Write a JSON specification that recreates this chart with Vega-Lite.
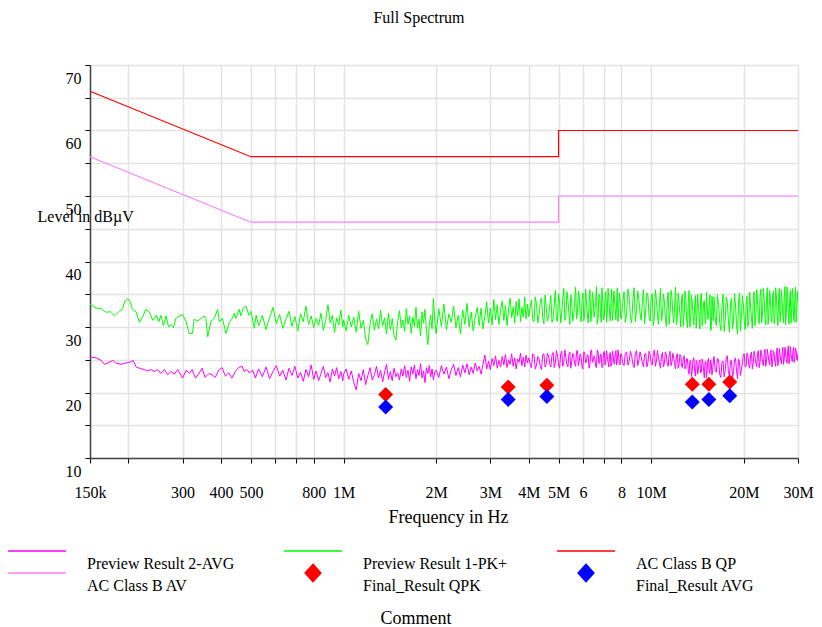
{
"$schema": "https://vega.github.io/schema/vega-lite/v6.json",
"width": 708,
"height": 393,
"autosize": {"type": "none"},
"padding": {"left": 90, "top": 65, "right": 24, "bottom": 169},
"background": "white",
"title": {"text": "Full Spectrum", "anchor": "middle", "dx": -25, "offset": 26, "baseline": "alphabetic", "font": "Liberation Serif", "fontSize": 16, "fontWeight": "normal", "color": "#000000"},
"config": {"view": {"stroke": null}, "font": "Liberation Serif"},
"datasets": {
"tr": [
{"s":"pk","f":150,"v":33.5},{"s":"pk","f":157,"v":32.9},{"s":"pk","f":163,"v":32.8},{"s":"pk","f":167,"v":32.4},{"s":"pk","f":171,"v":32.2},{"s":"pk","f":174,"v":32.4},{"s":"pk","f":180,"v":31.7},{"s":"pk","f":187,"v":32.4},{"s":"pk","f":191,"v":32.7},{"s":"pk","f":195,"v":34.0},{"s":"pk","f":199,"v":34.3},{"s":"pk","f":203,"v":33.8},{"s":"pk","f":206,"v":32.7},{"s":"pk","f":212,"v":32.3},{"s":"pk","f":217,"v":30.7},{"s":"pk","f":222,"v":31.5},{"s":"pk","f":228,"v":32.7},{"s":"pk","f":234,"v":32.3},{"s":"pk","f":240,"v":31.0},{"s":"pk","f":246,"v":31.8},{"s":"pk","f":251,"v":30.8},{"s":"pk","f":255,"v":31.8},{"s":"pk","f":260,"v":30.2},{"s":"pk","f":265,"v":31.7},{"s":"pk","f":270,"v":30.0},{"s":"pk","f":275,"v":30.4},{"s":"pk","f":280,"v":29.9},{"s":"pk","f":285,"v":31.3},{"s":"pk","f":293,"v":31.7},{"s":"pk","f":300,"v":31.9},{"s":"pk","f":308,"v":30.8},{"s":"pk","f":315,"v":29.0},{"s":"pk","f":323,"v":29.0},{"s":"pk","f":327,"v":31.2},{"s":"pk","f":336,"v":30.9},{"s":"pk","f":344,"v":31.3},{"s":"pk","f":353,"v":31.7},{"s":"pk","f":357,"v":31.3},{"s":"pk","f":362,"v":28.5},{"s":"pk","f":371,"v":30.9},{"s":"pk","f":380,"v":31.3},{"s":"pk","f":390,"v":32.7},{"s":"pk","f":395,"v":30.8},{"s":"pk","f":404,"v":31.3},{"s":"pk","f":415,"v":29.0},{"s":"pk","f":425,"v":30.6},{"s":"pk","f":435,"v":31.3},{"s":"pk","f":442,"v":32.1},{"s":"pk","f":447,"v":31.3},{"s":"pk","f":458,"v":32.7},{"s":"pk","f":464,"v":31.7},{"s":"pk","f":472,"v":32.9},{"s":"pk","f":482,"v":33.2},{"s":"pk","f":492,"v":31.8},{"s":"pk","f":500,"v":32.4},{"s":"pk","f":513,"v":29.8},{"s":"pk","f":520,"v":31.8},
{"s":"pk","f":530,"v":30.2},{"s":"pk","f":545,"v":31.8},{"s":"pk","f":560,"v":29.6},{"s":"pk","f":575,"v":31.4},{"s":"pk","f":590,"v":33.0},{"s":"pk","f":605,"v":30.5},{"s":"pk","f":620,"v":31.9},{"s":"pk","f":635,"v":29.8},{"s":"pk","f":650,"v":31.2},{"s":"pk","f":665,"v":32.4},{"s":"pk","f":680,"v":30.1},{"s":"pk","f":695,"v":31.6},{"s":"pk","f":710,"v":29.4},{"s":"pk","f":725,"v":32.0},{"s":"pk","f":740,"v":30.8},{"s":"pk","f":755,"v":33.2},{"s":"pk","f":770,"v":30.4},{"s":"pk","f":785,"v":31.7},{"s":"pk","f":800,"v":29.9},{"s":"pk","f":815,"v":31.3},{"s":"pk","f":830,"v":30.2},{"s":"pk","f":845,"v":32.1},{"s":"pk","f":860,"v":29.5},{"s":"pk","f":875,"v":31.0},{"s":"pk","f":890,"v":33.4},{"s":"pk","f":905,"v":30.6},{"s":"pk","f":920,"v":31.8},{"s":"pk","f":935,"v":29.2},{"s":"pk","f":950,"v":31.4},{"s":"pk","f":965,"v":30.3},{"s":"pk","f":980,"v":32.6},{"s":"pk","f":995,"v":30.0},
{"s":"pk","f":1000,"v":31.1},{"s":"pk","f":1020,"v":29.4},{"s":"pk","f":1040,"v":31.8},{"s":"pk","f":1060,"v":30.0},{"s":"pk","f":1080,"v":31.5},{"s":"pk","f":1100,"v":29.2},{"s":"pk","f":1120,"v":32.4},{"s":"pk","f":1140,"v":29.8},{"s":"pk","f":1160,"v":31.0},{"s":"pk","f":1180,"v":28.2},{"s":"pk","f":1200,"v":27.3},{"s":"pk","f":1220,"v":30.5},{"s":"pk","f":1240,"v":32.0},{"s":"pk","f":1260,"v":29.5},{"s":"pk","f":1280,"v":31.2},{"s":"pk","f":1300,"v":29.7},{"s":"pk","f":1320,"v":32.6},{"s":"pk","f":1340,"v":30.2},{"s":"pk","f":1360,"v":31.4},{"s":"pk","f":1380,"v":28.9},{"s":"pk","f":1400,"v":32.1},{"s":"pk","f":1420,"v":29.6},{"s":"pk","f":1440,"v":31.3},{"s":"pk","f":1460,"v":28.7},{"s":"pk","f":1480,"v":28.0},{"s":"pk","f":1500,"v":30.8},{"s":"pk","f":1520,"v":32.5},{"s":"pk","f":1540,"v":29.9},{"s":"pk","f":1560,"v":31.1},{"s":"pk","f":1580,"v":29.3},{"s":"pk","f":1600,"v":32.8},{"s":"pk","f":1620,"v":30.4},{"s":"pk","f":1640,"v":31.7},{"s":"pk","f":1660,"v":29.0},{"s":"pk","f":1680,"v":31.5},{"s":"pk","f":1700,"v":30.1},{"s":"pk","f":1720,"v":33.0},{"s":"pk","f":1740,"v":29.8},{"s":"pk","f":1760,"v":31.2},{"s":"pk","f":1780,"v":28.6},{"s":"pk","f":1800,"v":32.3},{"s":"pk","f":1820,"v":30.6},{"s":"pk","f":1840,"v":32.7},{"s":"pk","f":1860,"v":29.4},{"s":"pk","f":1880,"v":27.3},{"s":"pk","f":1900,"v":30.2},{"s":"pk","f":1920,"v":31.8},{"s":"pk","f":1940,"v":29.7},{"s":"pk","f":1960,"v":34.4},{"s":"pk","f":1980,"v":30.9},
{"s":"pk","f":2000,"v":29.0},{"s":"pk","f":2040,"v":32.8},{"s":"pk","f":2080,"v":30.1},{"s":"pk","f":2120,"v":33.5},{"s":"pk","f":2160,"v":29.6},{"s":"pk","f":2200,"v":32.0},{"s":"pk","f":2240,"v":30.7},{"s":"pk","f":2280,"v":33.2},{"s":"pk","f":2320,"v":29.9},{"s":"pk","f":2360,"v":31.8},{"s":"pk","f":2400,"v":28.9},{"s":"pk","f":2440,"v":32.6},{"s":"pk","f":2480,"v":30.4},{"s":"pk","f":2520,"v":33.6},{"s":"pk","f":2560,"v":30.0},{"s":"pk","f":2600,"v":32.3},{"s":"pk","f":2640,"v":29.4},{"s":"pk","f":2680,"v":31.5},{"s":"pk","f":2720,"v":33.0},{"s":"pk","f":2760,"v":30.2},{"s":"pk","f":2800,"v":32.9},{"s":"pk","f":2840,"v":29.7},{"s":"pk","f":2880,"v":31.6},{"s":"pk","f":2920,"v":33.8},{"s":"pk","f":2960,"v":30.6},{"s":"pk","f":3000,"v":32.9},{"s":"pk","f":3040,"v":30.3},{"s":"pk","f":3080,"v":34.2},{"s":"pk","f":3120,"v":31.1},{"s":"pk","f":3160,"v":33.4},{"s":"pk","f":3200,"v":30.4},{"s":"pk","f":3240,"v":32.6},{"s":"pk","f":3280,"v":34.0},{"s":"pk","f":3320,"v":31.0},{"s":"pk","f":3360,"v":33.3},{"s":"pk","f":3400,"v":30.2},{"s":"pk","f":3440,"v":32.8},{"s":"pk","f":3480,"v":34.4},{"s":"pk","f":3520,"v":31.4},{"s":"pk","f":3560,"v":33.1},{"s":"pk","f":3600,"v":30.6},{"s":"pk","f":3640,"v":33.9},{"s":"pk","f":3680,"v":31.7},{"s":"pk","f":3720,"v":34.3},{"s":"pk","f":3760,"v":30.8},{"s":"pk","f":3800,"v":33.0},{"s":"pk","f":3840,"v":31.5},{"s":"pk","f":3880,"v":34.6},{"s":"pk","f":3920,"v":31.2},{"s":"pk","f":3960,"v":33.5},
{"s":"pk","f":4000,"v":31.6},{"s":"pk","f":4080,"v":34.1},{"s":"pk","f":4160,"v":30.8},{"s":"pk","f":4240,"v":33.4},{"s":"pk","f":4320,"v":31.9},{"s":"pk","f":4400,"v":34.5},{"s":"pk","f":4480,"v":30.5},{"s":"pk","f":4560,"v":33.0},{"s":"pk","f":4640,"v":31.7},{"s":"pk","f":4720,"v":34.8},{"s":"pk","f":4800,"v":31.2},{"s":"pk","f":4880,"v":35.6},{"s":"pk","f":4960,"v":30.9},{"s":"pk","f":5040,"v":33.8},{"s":"pk","f":5120,"v":32.0},{"s":"pk","f":5200,"v":35.9},{"s":"pk","f":5280,"v":31.4},{"s":"pk","f":5360,"v":34.2},{"s":"pk","f":5440,"v":30.4},{"s":"pk","f":5520,"v":33.6},{"s":"pk","f":5600,"v":31.8},{"s":"pk","f":5680,"v":36.1},{"s":"pk","f":5760,"v":32.3},{"s":"pk","f":5840,"v":34.7},{"s":"pk","f":5920,"v":30.8},{"s":"pk","f":6000,"v":35.2},{"s":"pk","f":6080,"v":32.1},{"s":"pk","f":6160,"v":34.0},{"s":"pk","f":6240,"v":30.6},{"s":"pk","f":6320,"v":35.7},{"s":"pk","f":6400,"v":31.9},{"s":"pk","f":6480,"v":34.4},{"s":"pk","f":6560,"v":32.5},{"s":"pk","f":6640,"v":36.2},{"s":"pk","f":6720,"v":31.3},{"s":"pk","f":6800,"v":34.9},{"s":"pk","f":6880,"v":30.7},{"s":"pk","f":6960,"v":33.7},{"s":"pk","f":7040,"v":31.6},{"s":"pk","f":7120,"v":35.4},{"s":"pk","f":7200,"v":32.2},{"s":"pk","f":7280,"v":34.6},{"s":"pk","f":7360,"v":30.9},{"s":"pk","f":7440,"v":35.8},{"s":"pk","f":7520,"v":32.4},{"s":"pk","f":7600,"v":34.1},{"s":"pk","f":7680,"v":31.1},{"s":"pk","f":7760,"v":36.0},{"s":"pk","f":7840,"v":32.6},{"s":"pk","f":7920,"v":34.3},
{"s":"pk","f":4040,"v":33.0},{"s":"pk","f":4120,"v":31.2},{"s":"pk","f":4200,"v":34.6},{"s":"pk","f":4280,"v":30.6},{"s":"pk","f":4360,"v":33.7},{"s":"pk","f":4440,"v":31.4},{"s":"pk","f":4520,"v":34.9},{"s":"pk","f":4600,"v":30.9},{"s":"pk","f":4680,"v":33.3},{"s":"pk","f":4760,"v":30.7},{"s":"pk","f":4840,"v":33.5},{"s":"pk","f":4920,"v":31.0},{"s":"pk","f":5000,"v":35.1},{"s":"pk","f":5080,"v":30.6},{"s":"pk","f":5160,"v":34.4},{"s":"pk","f":5240,"v":31.0},{"s":"pk","f":5320,"v":35.4},{"s":"pk","f":5400,"v":32.2},{"s":"pk","f":5480,"v":34.9},{"s":"pk","f":5560,"v":30.9},{"s":"pk","f":5640,"v":33.9},{"s":"pk","f":5720,"v":31.2},{"s":"pk","f":5800,"v":35.5},{"s":"pk","f":5880,"v":31.6},{"s":"pk","f":5960,"v":34.0},{"s":"pk","f":6040,"v":30.9},{"s":"pk","f":6120,"v":35.8},{"s":"pk","f":6200,"v":31.8},{"s":"pk","f":6280,"v":33.4},{"s":"pk","f":6360,"v":30.8},{"s":"pk","f":6440,"v":35.3},{"s":"pk","f":6520,"v":31.5},{"s":"pk","f":6600,"v":33.9},{"s":"pk","f":6680,"v":30.5},{"s":"pk","f":6760,"v":35.0},{"s":"pk","f":6840,"v":32.0},{"s":"pk","f":6920,"v":36.0},{"s":"pk","f":7000,"v":31.1},{"s":"pk","f":7080,"v":34.5},{"s":"pk","f":7160,"v":30.7},{"s":"pk","f":7240,"v":35.9},{"s":"pk","f":7320,"v":32.3},{"s":"pk","f":7400,"v":33.6},{"s":"pk","f":7480,"v":31.0},{"s":"pk","f":7560,"v":35.5},{"s":"pk","f":7640,"v":32.7},{"s":"pk","f":7720,"v":33.8},{"s":"pk","f":7800,"v":30.8},{"s":"pk","f":7880,"v":35.2},{"s":"pk","f":7960,"v":31.4},
{"s":"pk","f":8000,"v":31.2},{"s":"pk","f":8160,"v":35.4},{"s":"pk","f":8320,"v":32.0},{"s":"pk","f":8480,"v":34.6},{"s":"pk","f":8640,"v":30.6},{"s":"pk","f":8800,"v":36.0},{"s":"pk","f":8960,"v":32.4},{"s":"pk","f":9120,"v":34.1},{"s":"pk","f":9280,"v":31.0},{"s":"pk","f":9440,"v":35.7},{"s":"pk","f":9600,"v":32.6},{"s":"pk","f":9760,"v":34.8},{"s":"pk","f":9920,"v":30.9},{"s":"pk","f":10080,"v":35.1},{"s":"pk","f":10240,"v":31.7},{"s":"pk","f":10400,"v":34.0},{"s":"pk","f":10560,"v":30.4},{"s":"pk","f":10720,"v":35.9},{"s":"pk","f":10880,"v":31.9},{"s":"pk","f":11040,"v":33.9},{"s":"pk","f":11200,"v":30.1},{"s":"pk","f":11360,"v":35.3},{"s":"pk","f":11520,"v":32.2},{"s":"pk","f":11680,"v":34.5},{"s":"pk","f":11840,"v":30.6},{"s":"pk","f":12000,"v":36.1},{"s":"pk","f":12160,"v":31.5},{"s":"pk","f":12320,"v":33.7},{"s":"pk","f":12480,"v":30.0},{"s":"pk","f":12640,"v":35.0},{"s":"pk","f":12800,"v":32.0},{"s":"pk","f":12960,"v":34.3},{"s":"pk","f":13120,"v":29.9},{"s":"pk","f":13280,"v":35.6},{"s":"pk","f":13440,"v":31.4},{"s":"pk","f":13600,"v":33.5},{"s":"pk","f":13760,"v":30.3},{"s":"pk","f":13920,"v":34.8},{"s":"pk","f":14080,"v":31.8},{"s":"pk","f":14240,"v":33.2},{"s":"pk","f":14400,"v":29.7},{"s":"pk","f":14560,"v":35.2},{"s":"pk","f":14720,"v":31.2},{"s":"pk","f":14880,"v":34.0},{"s":"pk","f":15040,"v":30.5},{"s":"pk","f":15200,"v":33.6},{"s":"pk","f":15360,"v":31.6},{"s":"pk","f":15520,"v":34.9},{"s":"pk","f":15680,"v":29.6},{"s":"pk","f":15840,"v":33.1},
{"s":"pk","f":8080,"v":33.6},{"s":"pk","f":8240,"v":30.7},{"s":"pk","f":8400,"v":35.8},{"s":"pk","f":8560,"v":31.4},{"s":"pk","f":8720,"v":34.2},{"s":"pk","f":8880,"v":30.8},{"s":"pk","f":9040,"v":35.5},{"s":"pk","f":9200,"v":32.1},{"s":"pk","f":9360,"v":33.9},{"s":"pk","f":9520,"v":30.5},{"s":"pk","f":9680,"v":35.2},{"s":"pk","f":9840,"v":31.6},{"s":"pk","f":10000,"v":34.5},{"s":"pk","f":10160,"v":30.2},{"s":"pk","f":10320,"v":35.7},{"s":"pk","f":10480,"v":31.8},{"s":"pk","f":10640,"v":33.6},{"s":"pk","f":10800,"v":30.9},{"s":"pk","f":10960,"v":35.0},{"s":"pk","f":11120,"v":31.3},{"s":"pk","f":11280,"v":34.1},{"s":"pk","f":11440,"v":30.4},{"s":"pk","f":11600,"v":35.6},{"s":"pk","f":11760,"v":31.9},{"s":"pk","f":11920,"v":33.4},{"s":"pk","f":12080,"v":30.3},{"s":"pk","f":12240,"v":35.2},{"s":"pk","f":12400,"v":32.0},{"s":"pk","f":12560,"v":34.4},{"s":"pk","f":12720,"v":30.1},{"s":"pk","f":12880,"v":35.5},{"s":"pk","f":13040,"v":31.1},{"s":"pk","f":13200,"v":33.8},{"s":"pk","f":13360,"v":30.0},{"s":"pk","f":13520,"v":34.9},{"s":"pk","f":13680,"v":31.7},{"s":"pk","f":13840,"v":33.3},{"s":"pk","f":14000,"v":29.8},{"s":"pk","f":14160,"v":35.0},{"s":"pk","f":14320,"v":31.4},{"s":"pk","f":14480,"v":34.6},{"s":"pk","f":14640,"v":30.2},{"s":"pk","f":14800,"v":33.7},{"s":"pk","f":14960,"v":30.8},{"s":"pk","f":15120,"v":35.3},{"s":"pk","f":15280,"v":31.2},{"s":"pk","f":15440,"v":33.4},{"s":"pk","f":15600,"v":29.5},{"s":"pk","f":15760,"v":34.7},{"s":"pk","f":15920,"v":30.9},
{"s":"pk","f":16000,"v":34.6},{"s":"pk","f":16280,"v":30.2},{"s":"pk","f":16560,"v":33.4},{"s":"pk","f":16840,"v":29.5},{"s":"pk","f":17120,"v":35.0},{"s":"pk","f":17400,"v":31.1},{"s":"pk","f":17680,"v":33.8},{"s":"pk","f":17960,"v":29.2},{"s":"pk","f":18240,"v":34.4},{"s":"pk","f":18520,"v":30.8},{"s":"pk","f":18800,"v":33.1},{"s":"pk","f":19080,"v":28.9},{"s":"pk","f":19360,"v":35.2},{"s":"pk","f":19640,"v":31.3},{"s":"pk","f":19920,"v":33.6},{"s":"pk","f":20200,"v":29.6},{"s":"pk","f":20480,"v":34.7},{"s":"pk","f":20760,"v":30.9},{"s":"pk","f":21040,"v":33.2},{"s":"pk","f":21320,"v":29.8},{"s":"pk","f":21600,"v":35.4},{"s":"pk","f":21880,"v":31.6},{"s":"pk","f":22160,"v":34.1},{"s":"pk","f":22440,"v":30.5},{"s":"pk","f":22720,"v":35.8},{"s":"pk","f":23000,"v":31.9},{"s":"pk","f":23280,"v":34.5},{"s":"pk","f":23560,"v":30.3},{"s":"pk","f":23840,"v":36.0},{"s":"pk","f":24120,"v":32.1},{"s":"pk","f":24400,"v":34.2},{"s":"pk","f":24680,"v":30.7},{"s":"pk","f":24960,"v":35.5},{"s":"pk","f":25240,"v":31.4},{"s":"pk","f":25520,"v":34.8},{"s":"pk","f":25800,"v":30.2},{"s":"pk","f":26080,"v":35.9},{"s":"pk","f":26360,"v":32.3},{"s":"pk","f":26640,"v":34.0},{"s":"pk","f":26920,"v":30.6},{"s":"pk","f":27200,"v":36.2},{"s":"pk","f":27480,"v":31.8},{"s":"pk","f":27760,"v":34.6},{"s":"pk","f":28040,"v":30.4},{"s":"pk","f":28320,"v":35.6},{"s":"pk","f":28600,"v":32.0},{"s":"pk","f":28880,"v":34.9},{"s":"pk","f":29160,"v":30.8},{"s":"pk","f":29440,"v":36.1},{"s":"pk","f":29720,"v":31.5},{"s":"pk","f":30000,"v":33.8},
{"s":"pk","f":16140,"v":31.4},{"s":"pk","f":16420,"v":34.9},{"s":"pk","f":16700,"v":30.6},{"s":"pk","f":16980,"v":33.0},{"s":"pk","f":17260,"v":29.3},{"s":"pk","f":17540,"v":34.6},{"s":"pk","f":17820,"v":30.9},{"s":"pk","f":18100,"v":33.5},{"s":"pk","f":18380,"v":29.7},{"s":"pk","f":18660,"v":35.1},{"s":"pk","f":18940,"v":30.4},{"s":"pk","f":19220,"v":33.7},{"s":"pk","f":19500,"v":29.4},{"s":"pk","f":19780,"v":34.8},{"s":"pk","f":20060,"v":31.0},{"s":"pk","f":20340,"v":33.1},{"s":"pk","f":20620,"v":30.1},{"s":"pk","f":20900,"v":35.3},{"s":"pk","f":21180,"v":31.4},{"s":"pk","f":21460,"v":34.2},{"s":"pk","f":21740,"v":30.2},{"s":"pk","f":22020,"v":35.7},{"s":"pk","f":22300,"v":31.2},{"s":"pk","f":22580,"v":34.6},{"s":"pk","f":22860,"v":30.6},{"s":"pk","f":23140,"v":35.9},{"s":"pk","f":23420,"v":31.7},{"s":"pk","f":23700,"v":34.1},{"s":"pk","f":23980,"v":30.4},{"s":"pk","f":24260,"v":35.6},{"s":"pk","f":24540,"v":31.3},{"s":"pk","f":24820,"v":34.7},{"s":"pk","f":25100,"v":30.5},{"s":"pk","f":25380,"v":36.0},{"s":"pk","f":25660,"v":31.9},{"s":"pk","f":25940,"v":34.3},{"s":"pk","f":26220,"v":30.8},{"s":"pk","f":26500,"v":35.7},{"s":"pk","f":26780,"v":31.6},{"s":"pk","f":27060,"v":34.5},{"s":"pk","f":27340,"v":30.3},{"s":"pk","f":27620,"v":36.1},{"s":"pk","f":27900,"v":32.2},{"s":"pk","f":28180,"v":34.0},{"s":"pk","f":28460,"v":30.6},{"s":"pk","f":28740,"v":35.9},{"s":"pk","f":29020,"v":31.4},{"s":"pk","f":29300,"v":34.4},{"s":"pk","f":29580,"v":30.7},{"s":"pk","f":29860,"v":35.5},
{"s":"avg","f":150,"v":25.4},{"s":"avg","f":157,"v":25.3},{"s":"avg","f":163,"v":24.9},{"s":"avg","f":167,"v":24.3},{"s":"avg","f":171,"v":24.5},{"s":"avg","f":178,"v":24.9},{"s":"avg","f":182,"v":24.5},{"s":"avg","f":189,"v":24.3},{"s":"avg","f":196,"v":24.5},{"s":"avg","f":204,"v":24.7},{"s":"avg","f":207,"v":24.9},{"s":"avg","f":212,"v":23.9},{"s":"avg","f":217,"v":23.7},{"s":"avg","f":225,"v":23.5},{"s":"avg","f":231,"v":23.3},{"s":"avg","f":237,"v":23.5},{"s":"avg","f":243,"v":23.2},{"s":"avg","f":249,"v":23.5},{"s":"avg","f":255,"v":22.9},{"s":"avg","f":262,"v":23.5},{"s":"avg","f":268,"v":22.7},{"s":"avg","f":275,"v":23.2},{"s":"avg","f":282,"v":22.8},{"s":"avg","f":289,"v":23.5},{"s":"avg","f":300,"v":22.2},{"s":"avg","f":308,"v":23.4},{"s":"avg","f":315,"v":22.9},{"s":"avg","f":322,"v":23.5},{"s":"avg","f":330,"v":22.2},{"s":"avg","f":338,"v":22.8},{"s":"avg","f":347,"v":23.7},{"s":"avg","f":355,"v":22.3},{"s":"avg","f":365,"v":22.9},{"s":"avg","f":374,"v":22.7},{"s":"avg","f":383,"v":22.3},{"s":"avg","f":393,"v":23.4},{"s":"avg","f":403,"v":23.8},{"s":"avg","f":413,"v":22.5},{"s":"avg","f":423,"v":23.0},{"s":"avg","f":434,"v":22.2},{"s":"avg","f":445,"v":23.2},{"s":"avg","f":456,"v":23.8},{"s":"avg","f":468,"v":24.0},{"s":"avg","f":476,"v":23.2},{"s":"avg","f":486,"v":23.5},{"s":"avg","f":494,"v":23.0},{"s":"avg","f":507,"v":23.4},{"s":"avg","f":517,"v":22.2},
{"s":"avg","f":530,"v":23.6},{"s":"avg","f":545,"v":22.4},{"s":"avg","f":560,"v":23.9},{"s":"avg","f":575,"v":22.1},{"s":"avg","f":590,"v":23.2},{"s":"avg","f":605,"v":24.1},{"s":"avg","f":620,"v":22.5},{"s":"avg","f":635,"v":23.4},{"s":"avg","f":650,"v":21.9},{"s":"avg","f":665,"v":23.7},{"s":"avg","f":680,"v":22.6},{"s":"avg","f":695,"v":24.0},{"s":"avg","f":710,"v":22.2},{"s":"avg","f":725,"v":23.1},{"s":"avg","f":740,"v":21.7},{"s":"avg","f":755,"v":23.5},{"s":"avg","f":770,"v":22.4},{"s":"avg","f":785,"v":24.2},{"s":"avg","f":800,"v":22.0},{"s":"avg","f":815,"v":23.3},{"s":"avg","f":830,"v":21.8},{"s":"avg","f":845,"v":22.9},{"s":"avg","f":860,"v":24.0},{"s":"avg","f":875,"v":22.3},{"s":"avg","f":890,"v":23.0},{"s":"avg","f":905,"v":21.6},{"s":"avg","f":920,"v":23.6},{"s":"avg","f":935,"v":22.5},{"s":"avg","f":950,"v":23.8},{"s":"avg","f":965,"v":22.1},{"s":"avg","f":980,"v":23.2},{"s":"avg","f":995,"v":21.8},
{"s":"avg","f":1000,"v":22.8},{"s":"avg","f":1020,"v":23.6},{"s":"avg","f":1040,"v":22.0},{"s":"avg","f":1060,"v":23.3},{"s":"avg","f":1080,"v":21.5},{"s":"avg","f":1100,"v":20.4},{"s":"avg","f":1120,"v":22.9},{"s":"avg","f":1140,"v":21.8},{"s":"avg","f":1160,"v":23.5},{"s":"avg","f":1180,"v":21.2},{"s":"avg","f":1200,"v":22.6},{"s":"avg","f":1220,"v":23.8},{"s":"avg","f":1240,"v":21.9},{"s":"avg","f":1260,"v":22.7},{"s":"avg","f":1280,"v":24.0},{"s":"avg","f":1300,"v":22.2},{"s":"avg","f":1320,"v":23.4},{"s":"avg","f":1340,"v":21.6},{"s":"avg","f":1360,"v":23.1},{"s":"avg","f":1380,"v":24.3},{"s":"avg","f":1400,"v":22.0},{"s":"avg","f":1420,"v":23.2},{"s":"avg","f":1440,"v":21.8},{"s":"avg","f":1460,"v":23.7},{"s":"avg","f":1480,"v":22.4},{"s":"avg","f":1500,"v":23.0},{"s":"avg","f":1520,"v":21.9},{"s":"avg","f":1540,"v":23.6},{"s":"avg","f":1560,"v":22.5},{"s":"avg","f":1580,"v":24.1},{"s":"avg","f":1600,"v":22.3},{"s":"avg","f":1620,"v":23.4},{"s":"avg","f":1640,"v":21.7},{"s":"avg","f":1660,"v":23.9},{"s":"avg","f":1680,"v":22.8},{"s":"avg","f":1700,"v":24.2},{"s":"avg","f":1720,"v":22.1},{"s":"avg","f":1740,"v":23.5},{"s":"avg","f":1760,"v":22.6},{"s":"avg","f":1780,"v":24.4},{"s":"avg","f":1800,"v":22.2},{"s":"avg","f":1820,"v":23.3},{"s":"avg","f":1840,"v":21.5},{"s":"avg","f":1860,"v":23.8},{"s":"avg","f":1880,"v":22.9},{"s":"avg","f":1900,"v":24.1},{"s":"avg","f":1920,"v":22.4},{"s":"avg","f":1940,"v":23.6},{"s":"avg","f":1960,"v":21.9},{"s":"avg","f":1980,"v":23.2},
{"s":"avg","f":2000,"v":23.4},{"s":"avg","f":2040,"v":22.3},{"s":"avg","f":2080,"v":24.1},{"s":"avg","f":2120,"v":22.8},{"s":"avg","f":2160,"v":23.9},{"s":"avg","f":2200,"v":22.1},{"s":"avg","f":2240,"v":23.5},{"s":"avg","f":2280,"v":24.3},{"s":"avg","f":2320,"v":22.6},{"s":"avg","f":2360,"v":23.8},{"s":"avg","f":2400,"v":22.4},{"s":"avg","f":2440,"v":24.2},{"s":"avg","f":2480,"v":23.0},{"s":"avg","f":2520,"v":24.4},{"s":"avg","f":2560,"v":22.7},{"s":"avg","f":2600,"v":23.9},{"s":"avg","f":2640,"v":22.9},{"s":"avg","f":2680,"v":24.5},{"s":"avg","f":2720,"v":23.3},{"s":"avg","f":2760,"v":24.0},{"s":"avg","f":2800,"v":22.8},{"s":"avg","f":2840,"v":24.3},{"s":"avg","f":2880,"v":25.7},{"s":"avg","f":2920,"v":23.6},{"s":"avg","f":2960,"v":24.8},{"s":"avg","f":3000,"v":23.5},{"s":"avg","f":3040,"v":25.2},{"s":"avg","f":3080,"v":24.1},{"s":"avg","f":3120,"v":25.6},{"s":"avg","f":3160,"v":23.7},{"s":"avg","f":3200,"v":24.9},{"s":"avg","f":3240,"v":23.9},{"s":"avg","f":3280,"v":25.5},{"s":"avg","f":3320,"v":24.2},{"s":"avg","f":3360,"v":25.8},{"s":"avg","f":3400,"v":23.8},{"s":"avg","f":3440,"v":25.0},{"s":"avg","f":3480,"v":24.3},{"s":"avg","f":3520,"v":25.9},{"s":"avg","f":3560,"v":24.0},{"s":"avg","f":3600,"v":25.3},{"s":"avg","f":3640,"v":23.6},{"s":"avg","f":3680,"v":25.1},{"s":"avg","f":3720,"v":24.6},{"s":"avg","f":3760,"v":26.0},{"s":"avg","f":3800,"v":24.1},{"s":"avg","f":3840,"v":25.4},{"s":"avg","f":3880,"v":23.9},{"s":"avg","f":3920,"v":25.7},{"s":"avg","f":3960,"v":24.5},
{"s":"avg","f":4000,"v":25.3},{"s":"avg","f":4080,"v":23.8},{"s":"avg","f":4160,"v":25.7},{"s":"avg","f":4240,"v":24.2},{"s":"avg","f":4320,"v":25.1},{"s":"avg","f":4400,"v":23.5},{"s":"avg","f":4480,"v":25.9},{"s":"avg","f":4560,"v":24.4},{"s":"avg","f":4640,"v":25.6},{"s":"avg","f":4720,"v":23.9},{"s":"avg","f":4800,"v":26.1},{"s":"avg","f":4880,"v":24.5},{"s":"avg","f":4960,"v":25.8},{"s":"avg","f":5040,"v":23.7},{"s":"avg","f":5120,"v":26.3},{"s":"avg","f":5200,"v":24.6},{"s":"avg","f":5280,"v":25.4},{"s":"avg","f":5360,"v":23.9},{"s":"avg","f":5440,"v":26.2},{"s":"avg","f":5520,"v":24.8},{"s":"avg","f":5600,"v":25.5},{"s":"avg","f":5680,"v":24.0},{"s":"avg","f":5760,"v":26.4},{"s":"avg","f":5840,"v":24.9},{"s":"avg","f":5920,"v":25.3},{"s":"avg","f":6000,"v":23.6},{"s":"avg","f":6080,"v":26.0},{"s":"avg","f":6160,"v":24.7},{"s":"avg","f":6240,"v":25.6},{"s":"avg","f":6320,"v":24.2},{"s":"avg","f":6400,"v":26.5},{"s":"avg","f":6480,"v":24.8},{"s":"avg","f":6560,"v":25.4},{"s":"avg","f":6640,"v":23.8},{"s":"avg","f":6720,"v":26.2},{"s":"avg","f":6800,"v":24.5},{"s":"avg","f":6880,"v":25.7},{"s":"avg","f":6960,"v":24.1},{"s":"avg","f":7040,"v":26.3},{"s":"avg","f":7120,"v":24.9},{"s":"avg","f":7200,"v":25.5},{"s":"avg","f":7280,"v":23.9},{"s":"avg","f":7360,"v":26.1},{"s":"avg","f":7440,"v":24.6},{"s":"avg","f":7520,"v":25.8},{"s":"avg","f":7600,"v":24.3},{"s":"avg","f":7680,"v":26.4},{"s":"avg","f":7760,"v":25.0},{"s":"avg","f":7840,"v":25.6},{"s":"avg","f":7920,"v":24.2},
{"s":"avg","f":4040,"v":24.4},{"s":"avg","f":4120,"v":25.9},{"s":"avg","f":4200,"v":23.6},{"s":"avg","f":4280,"v":25.5},{"s":"avg","f":4360,"v":24.0},{"s":"avg","f":4440,"v":25.8},{"s":"avg","f":4520,"v":23.9},{"s":"avg","f":4600,"v":26.0},{"s":"avg","f":4680,"v":24.3},{"s":"avg","f":4760,"v":25.7},{"s":"avg","f":4840,"v":23.8},{"s":"avg","f":4920,"v":26.4},{"s":"avg","f":5000,"v":24.2},{"s":"avg","f":5080,"v":25.9},{"s":"avg","f":5160,"v":24.0},{"s":"avg","f":5240,"v":26.5},{"s":"avg","f":5320,"v":24.3},{"s":"avg","f":5400,"v":25.8},{"s":"avg","f":5480,"v":23.7},{"s":"avg","f":5560,"v":26.0},{"s":"avg","f":5640,"v":24.4},{"s":"avg","f":5720,"v":26.3},{"s":"avg","f":5800,"v":24.1},{"s":"avg","f":5880,"v":25.9},{"s":"avg","f":5960,"v":23.9},{"s":"avg","f":6040,"v":26.2},{"s":"avg","f":6120,"v":24.5},{"s":"avg","f":6200,"v":25.8},{"s":"avg","f":6280,"v":23.7},{"s":"avg","f":6360,"v":26.4},{"s":"avg","f":6440,"v":24.6},{"s":"avg","f":6520,"v":25.6},{"s":"avg","f":6600,"v":24.0},{"s":"avg","f":6680,"v":26.5},{"s":"avg","f":6760,"v":24.4},{"s":"avg","f":6840,"v":25.9},{"s":"avg","f":6920,"v":23.8},{"s":"avg","f":7000,"v":26.1},{"s":"avg","f":7080,"v":24.2},{"s":"avg","f":7160,"v":26.4},{"s":"avg","f":7240,"v":24.7},{"s":"avg","f":7320,"v":25.8},{"s":"avg","f":7400,"v":24.0},{"s":"avg","f":7480,"v":26.3},{"s":"avg","f":7560,"v":24.5},{"s":"avg","f":7640,"v":26.0},{"s":"avg","f":7720,"v":24.2},{"s":"avg","f":7800,"v":26.5},{"s":"avg","f":7880,"v":24.4},{"s":"avg","f":7960,"v":25.9},
{"s":"avg","f":8000,"v":25.9},{"s":"avg","f":8160,"v":24.1},{"s":"avg","f":8320,"v":26.2},{"s":"avg","f":8480,"v":24.7},{"s":"avg","f":8640,"v":25.6},{"s":"avg","f":8800,"v":23.8},{"s":"avg","f":8960,"v":26.4},{"s":"avg","f":9120,"v":24.9},{"s":"avg","f":9280,"v":25.4},{"s":"avg","f":9440,"v":23.9},{"s":"avg","f":9600,"v":26.0},{"s":"avg","f":9760,"v":24.6},{"s":"avg","f":9920,"v":25.8},{"s":"avg","f":10080,"v":24.2},{"s":"avg","f":10240,"v":26.5},{"s":"avg","f":10400,"v":24.8},{"s":"avg","f":10560,"v":25.3},{"s":"avg","f":10720,"v":23.7},{"s":"avg","f":10880,"v":26.1},{"s":"avg","f":11040,"v":24.5},{"s":"avg","f":11200,"v":25.7},{"s":"avg","f":11360,"v":24.0},{"s":"avg","f":11520,"v":26.3},{"s":"avg","f":11680,"v":24.7},{"s":"avg","f":11840,"v":25.2},{"s":"avg","f":12000,"v":23.6},{"s":"avg","f":12160,"v":25.9},{"s":"avg","f":12320,"v":24.3},{"s":"avg","f":12480,"v":25.5},{"s":"avg","f":12640,"v":23.8},{"s":"avg","f":12800,"v":25.6},{"s":"avg","f":12960,"v":23.9},{"s":"avg","f":13120,"v":25.1},{"s":"avg","f":13280,"v":22.8},{"s":"avg","f":13440,"v":24.9},{"s":"avg","f":13600,"v":23.4},{"s":"avg","f":13760,"v":25.3},{"s":"avg","f":13920,"v":22.5},{"s":"avg","f":14080,"v":24.7},{"s":"avg","f":14240,"v":23.6},{"s":"avg","f":14400,"v":25.0},{"s":"avg","f":14560,"v":23.1},{"s":"avg","f":14720,"v":24.6},{"s":"avg","f":14880,"v":22.2},{"s":"avg","f":15040,"v":24.8},{"s":"avg","f":15200,"v":23.3},{"s":"avg","f":15360,"v":25.2},{"s":"avg","f":15520,"v":22.9},{"s":"avg","f":15680,"v":24.4},{"s":"avg","f":15840,"v":23.5},
{"s":"avg","f":8080,"v":24.5},{"s":"avg","f":8240,"v":26.0},{"s":"avg","f":8400,"v":24.2},{"s":"avg","f":8560,"v":26.3},{"s":"avg","f":8720,"v":24.3},{"s":"avg","f":8880,"v":25.9},{"s":"avg","f":9040,"v":24.1},{"s":"avg","f":9200,"v":26.2},{"s":"avg","f":9360,"v":24.6},{"s":"avg","f":9520,"v":25.8},{"s":"avg","f":9680,"v":23.9},{"s":"avg","f":9840,"v":26.3},{"s":"avg","f":10000,"v":24.4},{"s":"avg","f":10160,"v":25.9},{"s":"avg","f":10320,"v":24.0},{"s":"avg","f":10480,"v":26.4},{"s":"avg","f":10640,"v":24.5},{"s":"avg","f":10800,"v":25.7},{"s":"avg","f":10960,"v":23.9},{"s":"avg","f":11120,"v":26.2},{"s":"avg","f":11280,"v":24.3},{"s":"avg","f":11440,"v":25.9},{"s":"avg","f":11600,"v":24.1},{"s":"avg","f":11760,"v":26.0},{"s":"avg","f":11920,"v":24.4},{"s":"avg","f":12080,"v":25.6},{"s":"avg","f":12240,"v":23.7},{"s":"avg","f":12400,"v":25.8},{"s":"avg","f":12560,"v":24.0},{"s":"avg","f":12720,"v":25.4},{"s":"avg","f":12880,"v":23.6},{"s":"avg","f":13040,"v":25.2},{"s":"avg","f":13200,"v":23.4},{"s":"avg","f":13360,"v":24.8},{"s":"avg","f":13520,"v":22.4},{"s":"avg","f":13680,"v":25.0},{"s":"avg","f":13840,"v":23.2},{"s":"avg","f":14000,"v":24.9},{"s":"avg","f":14160,"v":22.8},{"s":"avg","f":14320,"v":24.7},{"s":"avg","f":14480,"v":23.0},{"s":"avg","f":14640,"v":25.1},{"s":"avg","f":14800,"v":23.4},{"s":"avg","f":14960,"v":24.6},{"s":"avg","f":15120,"v":22.3},{"s":"avg","f":15280,"v":24.9},{"s":"avg","f":15440,"v":23.1},{"s":"avg","f":15600,"v":25.0},{"s":"avg","f":15760,"v":22.7},{"s":"avg","f":15920,"v":24.8},
{"s":"avg","f":16000,"v":25.5},{"s":"avg","f":16280,"v":23.1},{"s":"avg","f":16560,"v":25.0},{"s":"avg","f":16840,"v":22.3},{"s":"avg","f":17120,"v":24.8},{"s":"avg","f":17400,"v":23.4},{"s":"avg","f":17680,"v":25.6},{"s":"avg","f":17960,"v":22.6},{"s":"avg","f":18240,"v":24.9},{"s":"avg","f":18520,"v":23.2},{"s":"avg","f":18800,"v":25.3},{"s":"avg","f":19080,"v":22.1},{"s":"avg","f":19360,"v":24.7},{"s":"avg","f":19640,"v":23.5},{"s":"avg","f":19920,"v":25.8},{"s":"avg","f":20200,"v":23.9},{"s":"avg","f":20480,"v":26.0},{"s":"avg","f":20760,"v":24.2},{"s":"avg","f":21040,"v":25.7},{"s":"avg","f":21320,"v":23.6},{"s":"avg","f":21600,"v":26.3},{"s":"avg","f":21880,"v":24.5},{"s":"avg","f":22160,"v":25.9},{"s":"avg","f":22440,"v":23.8},{"s":"avg","f":22720,"v":26.5},{"s":"avg","f":23000,"v":24.6},{"s":"avg","f":23280,"v":25.8},{"s":"avg","f":23560,"v":24.0},{"s":"avg","f":23840,"v":26.6},{"s":"avg","f":24120,"v":24.8},{"s":"avg","f":24400,"v":26.1},{"s":"avg","f":24680,"v":23.9},{"s":"avg","f":24960,"v":26.4},{"s":"avg","f":25240,"v":24.7},{"s":"avg","f":25520,"v":25.9},{"s":"avg","f":25800,"v":24.1},{"s":"avg","f":26080,"v":26.7},{"s":"avg","f":26360,"v":24.9},{"s":"avg","f":26640,"v":26.0},{"s":"avg","f":26920,"v":24.3},{"s":"avg","f":27200,"v":26.9},{"s":"avg","f":27480,"v":25.0},{"s":"avg","f":27760,"v":26.2},{"s":"avg","f":28040,"v":24.4},{"s":"avg","f":28320,"v":27.0},{"s":"avg","f":28600,"v":25.2},{"s":"avg","f":28880,"v":26.3},{"s":"avg","f":29160,"v":24.6},{"s":"avg","f":29440,"v":26.8},{"s":"avg","f":29720,"v":25.1},{"s":"avg","f":30000,"v":26.0},
{"s":"avg","f":16140,"v":23.4},{"s":"avg","f":16420,"v":25.2},{"s":"avg","f":16700,"v":22.8},{"s":"avg","f":16980,"v":24.6},{"s":"avg","f":17260,"v":22.4},{"s":"avg","f":17540,"v":25.4},{"s":"avg","f":17820,"v":23.0},{"s":"avg","f":18100,"v":24.8},{"s":"avg","f":18380,"v":22.2},{"s":"avg","f":18660,"v":25.0},{"s":"avg","f":18940,"v":23.3},{"s":"avg","f":19220,"v":25.1},{"s":"avg","f":19500,"v":22.6},{"s":"avg","f":19780,"v":24.4},{"s":"avg","f":20060,"v":25.9},{"s":"avg","f":20340,"v":24.0},{"s":"avg","f":20620,"v":25.6},{"s":"avg","f":20900,"v":23.7},{"s":"avg","f":21180,"v":26.2},{"s":"avg","f":21460,"v":24.4},{"s":"avg","f":21740,"v":25.5},{"s":"avg","f":22020,"v":23.9},{"s":"avg","f":22300,"v":26.4},{"s":"avg","f":22580,"v":24.6},{"s":"avg","f":22860,"v":25.7},{"s":"avg","f":23140,"v":24.1},{"s":"avg","f":23420,"v":26.6},{"s":"avg","f":23700,"v":24.7},{"s":"avg","f":23980,"v":25.8},{"s":"avg","f":24260,"v":24.2},{"s":"avg","f":24540,"v":26.5},{"s":"avg","f":24820,"v":24.8},{"s":"avg","f":25100,"v":25.9},{"s":"avg","f":25380,"v":24.0},{"s":"avg","f":25660,"v":26.8},{"s":"avg","f":25940,"v":24.9},{"s":"avg","f":26220,"v":25.8},{"s":"avg","f":26500,"v":24.4},{"s":"avg","f":26780,"v":26.9},{"s":"avg","f":27060,"v":25.1},{"s":"avg","f":27340,"v":26.2},{"s":"avg","f":27620,"v":24.5},{"s":"avg","f":27900,"v":27.1},{"s":"avg","f":28180,"v":25.2},{"s":"avg","f":28460,"v":26.0},{"s":"avg","f":28740,"v":24.7},{"s":"avg","f":29020,"v":26.9},{"s":"avg","f":29300,"v":25.3},{"s":"avg","f":29580,"v":26.4},{"s":"avg","f":29860,"v":24.9}
],
"lim": [
{"s":"qp","f":150,"v":66,"o":1},{"s":"qp","f":500,"v":56,"o":2},{"s":"qp","f":5000,"v":56,"o":3},{"s":"qp","f":5000,"v":60,"o":4},{"s":"qp","f":30000,"v":60,"o":5},
{"s":"av","f":150,"v":56,"o":1},{"s":"av","f":500,"v":46,"o":2},{"s":"av","f":5000,"v":46,"o":3},{"s":"av","f":5000,"v":50,"o":4},{"s":"av","f":30000,"v":50,"o":5}
],
"pts": [
{"s":"qpk","f":1371,"v":19.7},{"s":"qpk","f":3430,"v":20.85},{"s":"qpk","f":4580,"v":21.1},{"s":"qpk","f":13600,"v":21.25},{"s":"qpk","f":15400,"v":21.25},{"s":"qpk","f":18000,"v":21.6},
{"s":"favg","f":1371,"v":17.8},{"s":"favg","f":3430,"v":18.95},{"s":"favg","f":4580,"v":19.4},{"s":"favg","f":13600,"v":18.55},{"s":"favg","f":15400,"v":18.95},{"s":"favg","f":18000,"v":19.5}
]
},
"encoding": {
  "x": {"field": "f", "type": "quantitative",
    "scale": {"type": "log", "domain": [150, 30000], "nice": false},
    "axis": {
      "values": [150,200,300,400,500,600,700,800,1000,2000,3000,4000,5000,6000,7000,8000,10000,20000,30000],
      "labelExpr": "datum.value == 150 ? '150k' : (datum.value == 200 || datum.value == 600 || datum.value == 700 || datum.value == 7000) ? '' : datum.value < 1000 ? format(datum.value, 'd') : datum.value == 6000 ? '6' : datum.value == 8000 ? '8' : format(datum.value / 1000, 'd') + 'M'",
      "title": "Frequency in Hz",
      "grid": true, "gridColor": "#e3e3e3", "gridWidth": 1.5,
      "domainColor": "#444444", "domainWidth": 1.5,
      "tickColor": "#000000", "tickSize": 5, "tickWidth": 1,
      "labelFont": "Liberation Serif", "labelFontSize": 16, "labelColor": "#000000", "labelPadding": 21,
      "labelFlush": false, "labelOverlap": false, "labelBound": false, "labelBaseline": "top",
      "titleFont": "Liberation Serif", "titleFontSize": 18, "titleFontWeight": "normal", "titleColor": "#000000",
      "titleX": 358, "titleY": 50, "titleBaseline": "top", "titleAlign": "center"
    }
  },
  "y": {"field": "v", "type": "quantitative",
    "scale": {"domain": [10, 70], "nice": false, "zero": false},
    "axis": {
      "values": [10,15,20,25,30,35,40,45,50,55,60,65,70],
      "labelExpr": "datum.value % 10 == 0 ? datum.label : ''",
      "title": "Level in dBµV",
      "grid": true, "gridColor": "#e3e3e3", "gridWidth": 1.5,
      "domainColor": "#444444", "domainWidth": 1.5,
      "tickColor": "#000000", "tickSize": 5, "tickWidth": 1,
      "labelFont": "Liberation Serif", "labelFontSize": 16, "labelColor": "#000000", "labelPadding": 4, "labelOffset": 13,
      "labelFlush": false, "labelOverlap": false, "labelBound": false,
      "titleFont": "Liberation Serif", "titleFontSize": 16, "titleFontWeight": "normal", "titleColor": "#000000",
      "titleAngle": 0, "titleAlign": "left", "titleBaseline": "middle", "titleX": -53, "titleY": 151
    }
  }
},
"layer": [
  {
    "data": {"name": "tr"},
    "mark": {"type": "line", "strokeWidth": 1, "clip": true},
    "encoding": {
      "color": {"field": "s", "type": "nominal",
        "scale": {"domain": ["avg","pk","qp","av","qpk","favg"], "range": ["#ff00ff","#00ff00","#ff0000","#ff80ff","#ff0000","#0000ff"]},
        "legend": {
          "title": "Comment",
          "orient": "none", "legendX": -82, "legendY": 487, "columns": 3, "direction": "horizontal",
          "padding": 0, "symbolSize": 16, "symbolStrokeWidth": 1.5, "symbolOpacity": 1, "symbolOffset": 21,
          "labelOffset": 42, "columnPadding": 46, "rowPadding": -11,
          "labelFont": "Liberation Serif", "labelFontSize": 16, "labelColor": "#000000", "labelLimit": 400,
          "labelExpr": "datum.label == 'avg' ? 'Preview Result 2-AVG' : datum.label == 'pk' ? 'Preview Result 1-PK+' : datum.label == 'qp' ? 'AC Class B QP' : datum.label == 'av' ? 'AC Class B AV' : datum.label == 'qpk' ? 'Final_Result QPK' : 'Final_Result AVG'",
          "titleOrient": "bottom", "titleAnchor": "middle", "titleFont": "Liberation Serif", "titleFontSize": 18, "titleFontWeight": "normal", "titleColor": "#000000", "titlePadding": 16,
          "encoding": {
            "symbols": {
              "shape": {"value": {"expr": "datum.value == 'qpk' || datum.value == 'favg' ? 'M-14.5,-4.5M0,-8.85L3.93,-4.5L0,-0.15L-3.93,-4.5Z' : 'M-14.5,-8.85M-14.5,-4.5L14.5,-4.5'"}},
              "fill": {"value": {"expr": "datum.value == 'qpk' || datum.value == 'favg' ? scale('color', datum.value) : 'transparent'"}},
              "stroke": {"value": {"expr": "datum.value == 'qpk' || datum.value == 'favg' ? 'transparent' : scale('color', datum.value)"}},
              "strokeWidth": {"value": 1.5},
              "opacity": {"value": 1},
              "size": {"value": 16}
            },
            "labels": {"dy": {"value": 4}},
            "title": {"dx": {"value": 35}}
          }
        }
      }
    }
  },
  {
    "data": {"name": "lim"},
    "mark": {"type": "line", "strokeWidth": 1.2},
    "encoding": {
      "color": {"field": "s", "type": "nominal",
        "scale": {"domain": ["avg","pk","qp","av","qpk","favg"], "range": ["#ff00ff","#00ff00","#ff0000","#ff80ff","#ff0000","#0000ff"]}},
      "order": {"field": "o", "type": "quantitative"}
    }
  },
  {
    "data": {"name": "pts"},
    "mark": {"type": "point", "shape": "diamond", "filled": true, "size": 225, "opacity": 1, "strokeWidth": 0},
    "encoding": {
      "color": {"field": "s", "type": "nominal",
        "scale": {"domain": ["avg","pk","qp","av","qpk","favg"], "range": ["#ff00ff","#00ff00","#ff0000","#ff80ff","#ff0000","#0000ff"]}}
    }
  }
]
}
